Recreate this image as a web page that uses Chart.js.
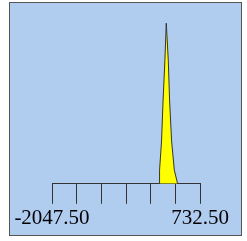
<!DOCTYPE html>
<html>
<head>
<meta charset="utf-8">
<script src="https://cdn.jsdelivr.net/npm/chart.js@4"></script>
<style>
  html, body { margin: 0; padding: 0; background: #ffffff; }
  #frame {
    position: absolute; left: 9px; top: 2px; width: 231px; height: 232px;
    border: 1px solid #555555; background: #b0cdf0;
  }
  #wrap { position: absolute; left: 0; top: 0; width: 247px; height: 241px; }
</style>
</head>
<body>
<div id="frame"></div>
<div id="wrap"><canvas id="grafico" width="247" height="241"></canvas></div>
<script>
// valores
const valoresX = [-36, -27, 10, 39, 73, 99, 137, 161, 199, 250, 312];
const contagens = [0, 8, 25, 49, 72, 94, 72, 49, 25, 8, 0];
const posicoesTicks = [-2047.5, -1584.17, -1120.83, -657.5, -194.17, 269.17, 732.5];
const rotulosTicks = ['-2047.50', '', '', '', '', '', '732.50'];

window.onload = function() {
  const ctx = document.getElementById('grafico').getContext('2d');
  const pontos = valoresX.map((x, i) => ({ x: x, y: contagens[i] }));

  new Chart(ctx, {
    type: 'line',
    data: {
      datasets: [{
        data: pontos,
        backgroundColor: '#ffff00',
        borderColor: '#333333',
        borderWidth: 1,
        pointRadius: 0,
        tension: 0,
        fill: 'origin'
      }]
    },
    options: {
      responsive: false,
      animation: false,
      layout: { padding: { left: 52, right: 47, top: 13, bottom: 8 } },
      plugins: { legend: { display: false }, tooltip: { enabled: false } },
      scales: {
        x: {
          type: 'linear',
          min: -2047.5,
          max: 732.5,
          afterBuildTicks: function(eixo) {
            eixo.ticks = posicoesTicks.map(v => ({ value: v }));
          },
          ticks: {
            autoSkip: false,
            maxRotation: 0,
            padding: 2,
            color: '#000000',
            font: { family: 'Liberation Serif', size: 21 },
            callback: function(valor, indice) { return rotulosTicks[indice]; }
          },
          grid: {
            drawOnChartArea: false,
            drawTicks: true,
            tickLength: 20,
            color: '#333333'
          },
          border: { display: true, color: '#333333', width: 1 }
        },
        y: {
          display: false,
          min: 0,
          max: 100
        }
      }
    }
  });
};
</script>
</body>
</html>
